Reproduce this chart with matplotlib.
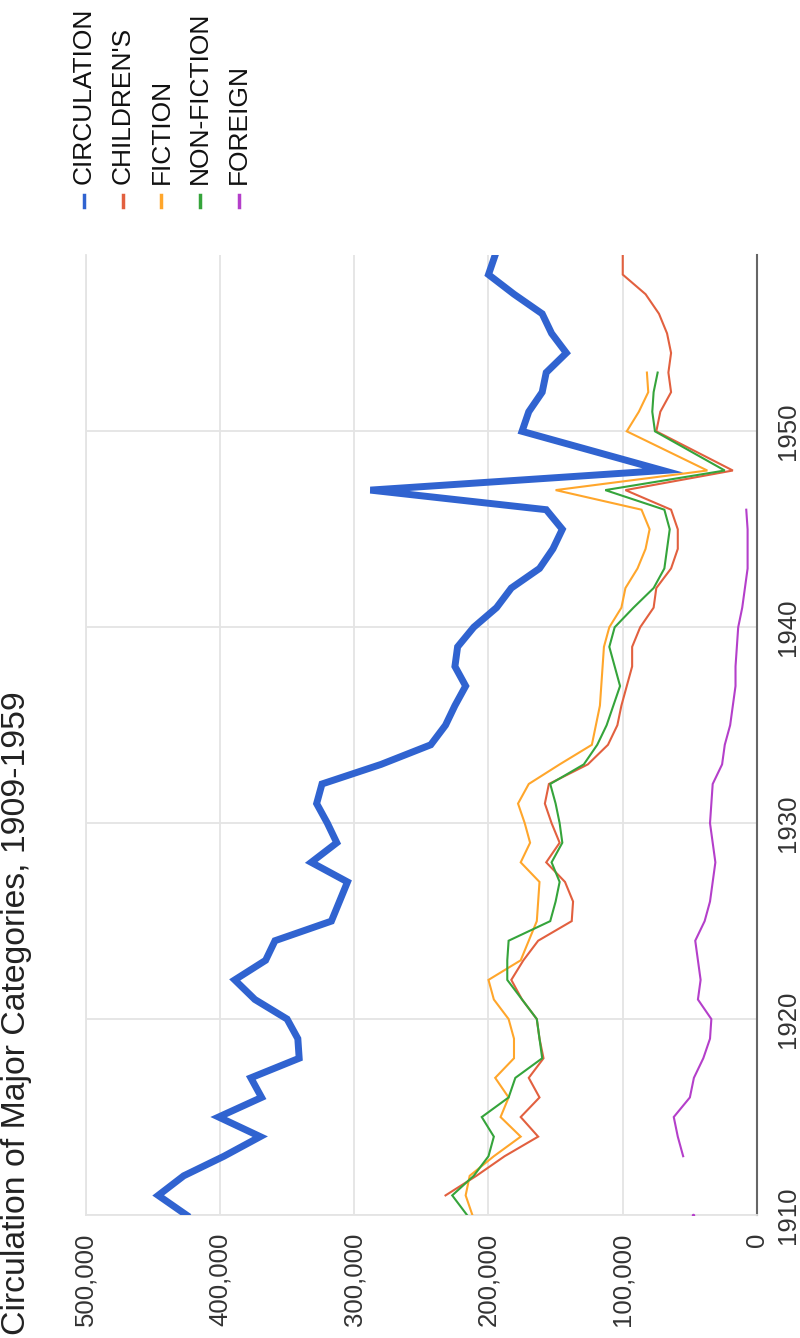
import numpy as np
import matplotlib.pyplot as plt
from matplotlib.lines import Line2D
from matplotlib.ticker import FuncFormatter

nan = np.nan

# 1949 não aparece na série original: as linhas ligam 1948 a 1950
YEARS = list(range(1910, 1949)) + list(range(1950, 1960))

CIRCULATION = [
    425000, 446000, 427000, 397000, 370000, 401000, 369000, 377000, 341000, 342000,
    350000, 374000, 389000, 366000, 359000, 317000, 311000, 305000, 332000, 313000,
    320000, 328000, 324000, 280000, 243000, 232000, 225000, 217000, 225000, 223000,
    211000, 194000, 183000, 162000, 152000, 145000, 157000, 288000, 70000,
    175000, 170000, 160000, 157000, 142000, 153000, 160000, 181000, 200000, 195000,
]
CHILDRENS = [
    nan, 232000, 209000, 188000, 163000, 176000, 162000, 170000, 159000, 162000,
    164000, 175000, 183000, 174000, 163000, 138000, 137000, 143000, 157000, 147000,
    153000, 158000, 155000, 126000, 111000, 104000, 101000, 97000, 93000, 93000,
    87000, 77000, 75000, 64000, 59000, 59000, 64000, 98000, 18000,
    75000, 72000, 64000, 66000, 64000, 67000, 73000, 83000, 100000, 100000,
]
FICTION = [
    212000, 217000, 214000, 196000, 176000, 191000, 185000, 195000, 181000, 181000,
    185000, 196000, 200000, 176000, 170000, 164000, 163000, 162000, 176000, 169000,
    173000, 178000, 170000, 147000, 123000, 120000, 117000, 116000, 115000, 114000,
    110000, 101000, 98000, 89000, 83000, 80000, 86000, 150000, 37000,
    97000, 88000, 81000, 82000, nan, nan, nan, nan, nan, nan,
]
NON_FICTION = [
    216000, 227000, 211000, 200000, 196000, 205000, 185000, 180000, 160000, 162000,
    164000, 175000, 186000, 186000, 185000, 154000, 150000, 147000, 153000, 145000,
    147000, 150000, 154000, 129000, 119000, 112000, 107000, 102000, 106000, 110000,
    106000, 92000, 77000, 69000, 67000, 65000, 69000, 113000, 24000,
    76000, 78000, 77000, 74000, nan, nan, nan, nan, nan, nan,
]
FOREIGN = [
    48000, nan, nan, 55000, 59000, 62000, 50000, 47000, 40000, 35000,
    34000, 44000, 42000, 44000, 46000, 39000, 35000, 33000, 31000, 33000,
    35000, 34000, 33000, 26000, 24000, 20000, 18000, 16000, 16000, 15000,
    14000, 11000, 9000, 7000, 7000, 7000, 8000, nan, nan,
    nan, nan, nan, nan, nan, nan, nan, nan, nan, nan,
]

SERIES = ["CIRCULATION", "CHILDREN'S", "FICTION", "NON-FICTION", "FOREIGN"]
COLORS = ["#3063d0", "#e2603f", "#ffa62b", "#35a43b", "#b43fca"]
WIDTHS = [5.0, 1.5, 1.5, 1.5, 1.5]

TITLE = "Circulation of Major Categories, 1909-1959"
VALUE_TICKS = [0, 100000, 200000, 300000, 400000, 500000]
YEAR_TICKS = [1910, 1920, 1930, 1940, 1950]

W, H = 800, 1338
FONT = ["Liberation Sans", "DejaVu Sans"]


def isolated(vals):
    # pontos sem vizinhos válidos: a linha não os desenha, vão como marcador
    v = np.asarray(vals, dtype=float)
    ok = np.isfinite(v)
    prev = np.r_[False, ok[:-1]]
    nxt = np.r_[ok[1:], False]
    return ok & ~prev & ~nxt


def main():
    plt.rcParams["font.family"] = FONT
    fig = plt.figure(figsize=(W / 100, H / 100), dpi=100)
    # gráfico girado: valor na horizontal (crescendo para a esquerda), ano na vertical
    ax = fig.add_axes([85.7 / W, 123 / H, (757 - 85.7) / W, 960 / H])

    data = [CIRCULATION, CHILDRENS, FICTION, NON_FICTION, FOREIGN]
    years = np.array(YEARS)
    for name, vals, c, lw in zip(SERIES, data, COLORS, WIDTHS):
        v = np.array(vals, dtype=float)
        ax.plot(v, years, color=c, lw=lw, solid_joinstyle="miter", zorder=3)
        iso = isolated(v)
        if iso.any():
            ax.plot(v[iso], years[iso], "o", color=c, ms=2.5, mew=0, zorder=3)

    ax.set_xlim(500000, 0)
    ax.set_ylim(1910, 1959)
    ax.set_xticks(VALUE_TICKS)
    ax.set_yticks(YEAR_TICKS)
    ax.xaxis.set_major_formatter(FuncFormatter(lambda v, _: f"{v:,.0f}"))
    ax.grid(color="#e4e4e4", lw=1.3, zorder=0)
    ax.set_axisbelow(True)

    ax.spines["top"].set_visible(False)
    for s in ("left", "bottom"):
        ax.spines[s].set_color("#e4e4e4")
        ax.spines[s].set_linewidth(1.3)
    ax.spines["right"].set_color("#666666")
    ax.spines["right"].set_linewidth(1.5)

    ax.yaxis.tick_right()
    ax.tick_params(axis="x", length=0, pad=13, labelrotation=90,
                   labelsize=18.5, labelcolor="#333333")
    ax.tick_params(axis="y", length=0, pad=14, labelrotation=90,
                   labelsize=18.5, labelcolor="#333333")
    for lab in ax.get_yticklabels():
        lab.set_va("center")

    # título à esquerda, lido de baixo para cima
    fig.text(17 / W, 3 / H, TITLE, rotation=90, ha="center", va="bottom",
             fontsize=24.3, color="#222222")

    # legenda manual, também girada
    for i, (name, c) in enumerate(zip(SERIES, COLORS)):
        x = (84 + i * 38.7) / W
        fig.text(x, 1 - 184 / H, name, rotation=90, ha="center", va="bottom",
                 fontsize=19, color="#111111")
        fig.add_artist(Line2D([x, x], [1 - 195 / H, 1 - 207 / H], color=c,
                              lw=2.5, transform=fig.transFigure))

    fig.savefig("out.png", dpi=100)
    plt.close(fig)


if __name__ == "__main__":
    main()
